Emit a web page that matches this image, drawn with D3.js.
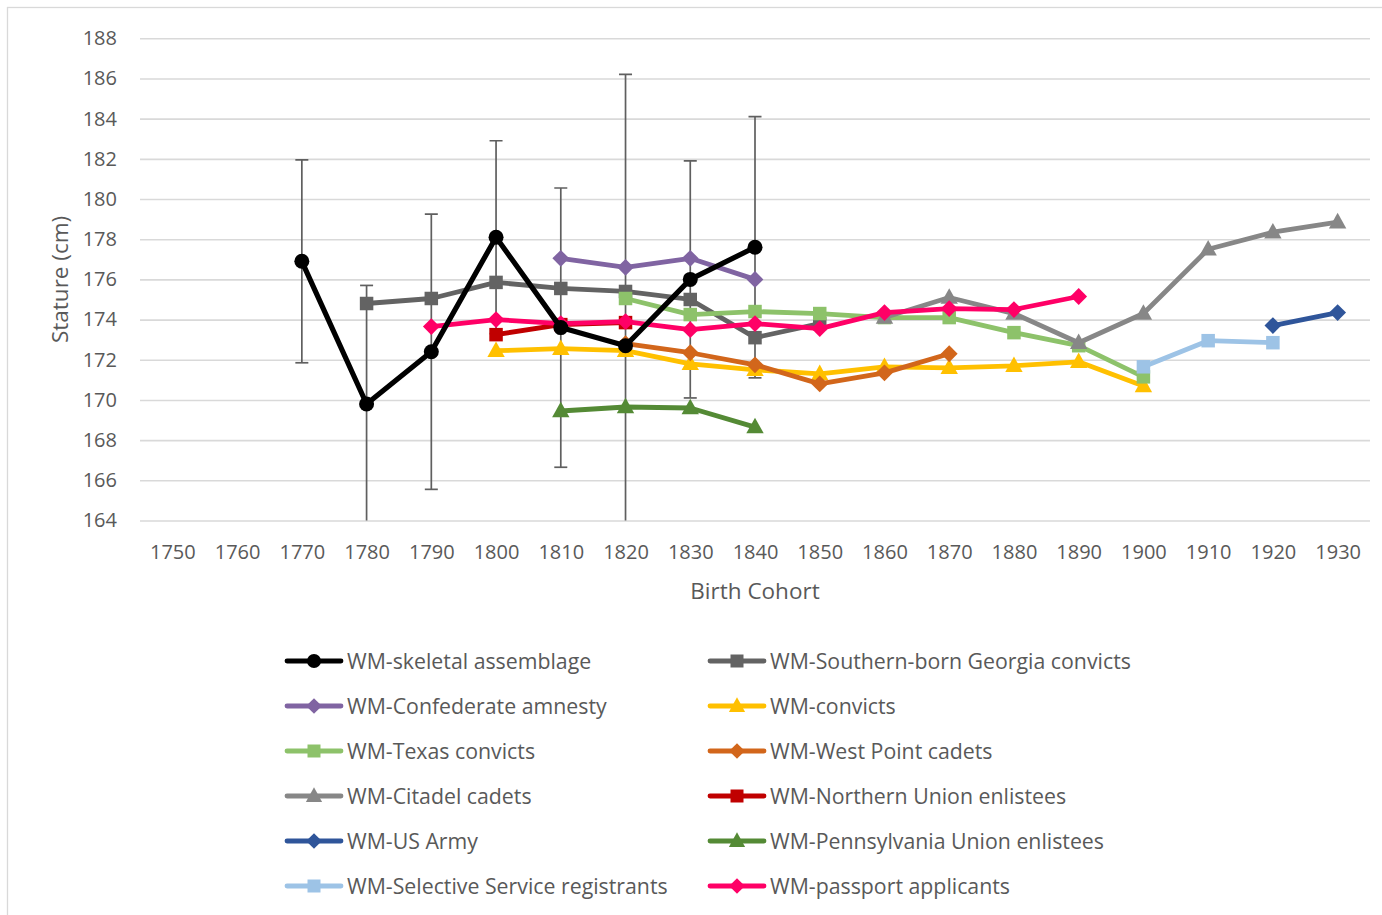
<!DOCTYPE html>
<html>
<head>
<meta charset="utf-8">
<script src="https://cdn.jsdelivr.net/npm/d3@7"></script>
<style>
  html, body { margin: 0; padding: 0; background: #fff; }
  svg { display: block; font-family: "Open Sans", sans-serif; }
</style>
</head>
<body>
<svg id="chart" width="1382" height="915"></svg>
<script>
// Birth cohorts on the category axis
const cohorts = [1750, 1760, 1770, 1780, 1790, 1800, 1810, 1820, 1830, 1840,
                 1850, 1860, 1870, 1880, 1890, 1900, 1910, 1920, 1930];
const yTicks = [164, 166, 168, 170, 172, 174, 176, 178, 180, 182, 184, 186, 188];

// Mean stature (cm) per cohort, one array per sample
const skeletalYears = [1770, 1780, 1790, 1800, 1810, 1820, 1830, 1840];
const skeletal      = [176.9, 169.8, 172.4, 178.1, 173.6, 172.7, 176.0, 177.6];
const skeletalErr   = [5.05, 5.9, 6.85, 4.8, 6.95, 13.5, 5.9, 6.5];

const georgiaYears = [1780, 1790, 1800, 1810, 1820, 1830, 1840, 1850];
const georgia      = [174.8, 175.05, 175.85, 175.55, 175.4, 175.0, 173.1, 173.8];

const confedYears = [1810, 1820, 1830, 1840];
const confed      = [177.05, 176.6, 177.05, 176.0];

const convictYears = [1800, 1810, 1820, 1830, 1840, 1850, 1860, 1870, 1880, 1890, 1900];
const convicts     = [172.45, 172.55, 172.45, 171.8, 171.5, 171.3, 171.65, 171.6, 171.7, 171.9, 170.7];

const texasYears = [1820, 1830, 1840, 1850, 1860, 1870, 1880, 1890, 1900];
const texas      = [175.05, 174.25, 174.4, 174.3, 174.1, 174.1, 173.35, 172.7, 171.15];

const westPointYears = [1820, 1830, 1840, 1850, 1860, 1870];
const westPoint      = [172.8, 172.35, 171.75, 170.8, 171.35, 172.3];

const citadelYears = [1860, 1870, 1880, 1890, 1900, 1910, 1920, 1930];
const citadel      = [174.1, 175.1, 174.3, 172.85, 174.3, 177.5, 178.35, 178.85];

const northUnionYears = [1800, 1810, 1820];
const northUnion      = [173.25, 173.75, 173.85];

const armyYears = [1920, 1930];
const army      = [173.7, 174.35];

const pennYears = [1810, 1820, 1830, 1840];
const penn      = [169.45, 169.65, 169.6, 168.65];

const selectiveYears = [1900, 1910, 1920];
const selective      = [171.65, 172.95, 172.85];

const passportYears = [1790, 1800, 1810, 1820, 1830, 1840, 1850, 1860, 1870, 1880, 1890];
const passport      = [173.65, 174.0, 173.8, 173.9, 173.5, 173.8, 173.55, 174.35, 174.55, 174.5, 175.15];

const seriesNames = [
  "WM-skeletal assemblage", "WM-Southern-born Georgia convicts",
  "WM-Confederate amnesty", "WM-convicts",
  "WM-Texas convicts", "WM-West Point cadets",
  "WM-Citadel cadets", "WM-Northern Union enlistees",
  "WM-US Army", "WM-Pennsylvania Union enlistees",
  "WM-Selective Service registrants", "WM-passport applicants"
];

const series = [
  { name: seriesNames[0],  years: skeletalYears,   values: skeletal,   color: "#000000", marker: "circle",   err: skeletalErr },
  { name: seriesNames[1],  years: georgiaYears,    values: georgia,    color: "#636363", marker: "square" },
  { name: seriesNames[2],  years: confedYears,     values: confed,     color: "#8064A2", marker: "diamond" },
  { name: seriesNames[3],  years: convictYears,    values: convicts,   color: "#FFC000", marker: "triangle" },
  { name: seriesNames[4],  years: texasYears,      values: texas,      color: "#8DC26A", marker: "square" },
  { name: seriesNames[5],  years: westPointYears,  values: westPoint,  color: "#D2661B", marker: "diamond" },
  { name: seriesNames[6],  years: citadelYears,    values: citadel,    color: "#878787", marker: "triangle" },
  { name: seriesNames[7],  years: northUnionYears, values: northUnion, color: "#C00000", marker: "square" },
  { name: seriesNames[8],  years: armyYears,       values: army,       color: "#2F559A", marker: "diamond" },
  { name: seriesNames[9],  years: pennYears,       values: penn,       color: "#548A35", marker: "triangle" },
  { name: seriesNames[10], years: selectiveYears,  values: selective,  color: "#9DC3E6", marker: "square" },
  { name: seriesNames[11], years: passportYears,   values: passport,   color: "#FF0066", marker: "diamond" }
];

const svg = d3.select("#chart");
const textColor = "#595959";
const plot = { left: 140, right: 1370, top: 38.3, bottom: 520.5 };

// outer chart frame
svg.append("rect")
  .attr("x", 7.5).attr("y", 7.5)
  .attr("width", 1400).attr("height", 1000)
  .attr("fill", "none").attr("stroke", "#d9d9d9").attr("stroke-width", 1.3);

const x = d3.scalePoint().domain(cohorts).range([plot.left, plot.right]).padding(0.5);
const y = d3.scaleLinear().domain([164, 188]).range([plot.bottom, plot.top]);

// horizontal gridlines
const yAxis = d3.axisLeft(y).tickValues(yTicks).tickSize(-(plot.right - plot.left)).tickPadding(23);
const gy = svg.append("g").attr("transform", `translate(${plot.left},0)`).call(yAxis);
gy.select(".domain").remove();
gy.selectAll(".tick line").attr("stroke", "#d9d9d9").attr("stroke-width", 1.6);
gy.selectAll(".tick text").attr("fill", textColor).attr("font-size", 20)
  .attr("font-family", "Open Sans, sans-serif");

// category axis labels
const xAxis = d3.axisBottom(x).tickSize(0).tickPadding(24);
const gx = svg.append("g").attr("transform", `translate(0,${plot.bottom})`).call(xAxis);
gx.select(".domain").remove();
gx.selectAll(".tick text").attr("fill", textColor).attr("font-size", 20)
  .attr("font-family", "Open Sans, sans-serif");

// axis titles
svg.append("text").attr("x", (plot.left + plot.right) / 2).attr("y", 599)
  .attr("text-anchor", "middle").attr("fill", textColor).attr("font-size", 22.5)
  .text("Birth Cohort");
svg.append("text").attr("transform", `translate(68,${(plot.top + plot.bottom) / 2}) rotate(-90)`)
  .attr("text-anchor", "middle").attr("fill", textColor).attr("font-size", 22.5)
  .text("Stature (cm)");

// clip to the plot area
svg.append("defs").append("clipPath").attr("id", "plotClip")
  .append("rect").attr("x", plot.left).attr("y", plot.top - 2)
  .attr("width", plot.right - plot.left).attr("height", plot.bottom - plot.top + 2);

const plotG = svg.append("g").attr("clip-path", "url(#plotClip)");

// error bars on the skeletal sample, drawn beneath the series
const skel = series[0];
const errG = plotG.append("g");
skel.years.forEach((yr, i) => {
  const cx = x(yr);
  const hi = skel.values[i] + skel.err[i];
  const lo = skel.values[i] - skel.err[i];
  errG.append("line").attr("x1", cx).attr("x2", cx).attr("y1", y(hi)).attr("y2", y(lo))
    .attr("stroke", "#5f5f5f").attr("stroke-width", 1.7);
  [hi, lo].forEach(v => {
    errG.append("line").attr("x1", cx - 6.5).attr("x2", cx + 6.5).attr("y1", y(v)).attr("y2", y(v))
      .attr("stroke", "#5f5f5f").attr("stroke-width", 1.7);
  });
});

function markerPath(type, s) {
  if (type === "circle") return d3.symbol(d3.symbolCircle, Math.PI * (s / 2) * (s / 2))();
  if (type === "square") return `M${-s/2},${-s/2}h${s}v${s}h${-s}Z`;
  if (type === "diamond") { const h = s * 0.56; return `M0,${-h}L${h},0L0,${h}L${-h},0Z`; }
  if (type === "triangle") { const w = s * 0.58; return `M0,${-s*0.62}L${w},${s*0.42}L${-w},${s*0.42}Z`; }
}

const line = d3.line().x(d => x(d.year)).y(d => y(d.value));

// later series on top, with the skeletal sample drawn last
const drawOrder = series.slice(1).concat([series[0]]);
drawOrder.forEach(s => {
  const pts = s.years.map((yr, i) => ({ year: yr, value: s.values[i] }));
  const g = plotG.append("g");
  g.append("path").datum(pts).attr("d", line).attr("fill", "none")
    .attr("stroke", s.color).attr("stroke-width", s.marker === "circle" ? 5.2 : 4.8)
    .attr("stroke-linejoin", "round").attr("stroke-linecap", "round");
  const size = s.marker === "circle" ? 15 : (s.marker === "square" ? 13.5 : 15);
  g.selectAll("path.m").data(pts).join("path").attr("class", "m")
    .attr("transform", d => `translate(${x(d.year)},${y(d.value)})`)
    .attr("d", markerPath(s.marker, size)).attr("fill", s.color);
});

// legend: two columns, filled row by row
const legendCols = [287, 710];
const legendRow0 = 661, legendStep = 45;
series.forEach((s, i) => {
  const lx = legendCols[i % 2];
  const ly = legendRow0 + Math.floor(i / 2) * legendStep;
  const g = svg.append("g").attr("transform", `translate(${lx},${ly})`);
  g.append("line").attr("x1", 0).attr("x2", 54).attr("y1", 0).attr("y2", 0)
    .attr("stroke", s.color).attr("stroke-width", 4.8).attr("stroke-linecap", "round");
  const size = s.marker === "circle" ? 14 : (s.marker === "square" ? 13 : 14);
  g.append("path").attr("transform", "translate(27,0)")
    .attr("d", markerPath(s.marker, size)).attr("fill", s.color);
  g.append("text").attr("x", 60).attr("y", 0).attr("dy", "0.36em")
    .attr("fill", textColor).attr("font-size", 21.3).text(s.name);
});
</script>
</body>
</html>
